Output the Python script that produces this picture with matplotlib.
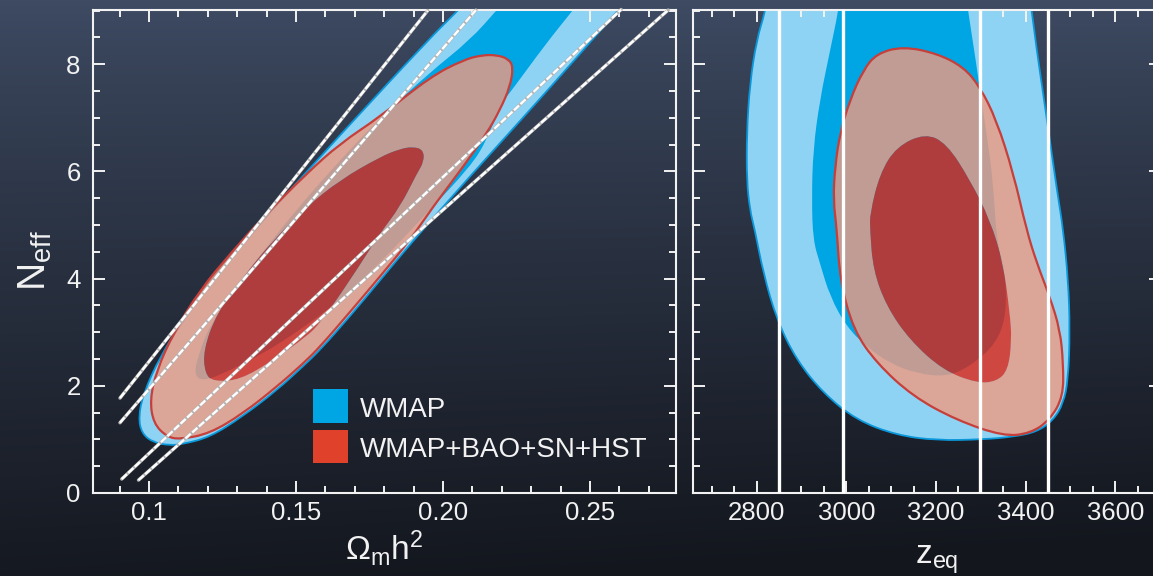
import numpy as np
import matplotlib
matplotlib.use("Agg")
import matplotlib.pyplot as plt
from matplotlib.path import Path
from matplotlib.patches import PathPatch, Rectangle
from matplotlib.ticker import FixedLocator, FixedFormatter, MultipleLocator

plt.rcParams['font.family'] = ['Liberation Sans', 'DejaVu Sans']
plt.rcParams['mathtext.fontset'] = 'custom'
plt.rcParams['mathtext.rm'] = 'Liberation Sans'
plt.rcParams['mathtext.it'] = 'Liberation Sans:italic'
plt.rcParams['mathtext.bf'] = 'Liberation Sans:bold'

# ---------------- data ----------------
# Left panel: Omega_m h^2 vs N_eff confidence regions (outlines)
omh2_wmap95 = [0.2099, 0.2047, 0.1956, 0.1650, 0.1412, 0.1332, 0.1207, 0.1117, 0.1037,
               0.0981, 0.0964, 0.0975, 0.1015, 0.1071, 0.1112, 0.1207, 0.1321, 0.1435,
               0.1525, 0.1582, 0.1684, 0.1786, 0.1894, 0.2092, 0.2262, 0.2466, 0.2596, 0.2643]
neff_wmap95 = [9.29, 8.98, 8.49, 6.68, 5.24, 4.72, 3.91, 3.23, 2.54,
               1.86, 1.42, 1.11, 0.94, 0.89, 0.91, 1.04, 1.44, 1.92,
               2.37, 2.67, 3.30, 3.97, 4.68, 5.91, 6.94, 8.19, 9.01, 9.29]

omh2_wmap68 = [0.2228, 0.2183, 0.2092, 0.1956, 0.1786, 0.1650, 0.1514, 0.1378, 0.1276,
               0.1207, 0.1167, 0.1153, 0.1190, 0.1276, 0.1378, 0.1514, 0.1650, 0.1786,
               0.1939, 0.2092, 0.2150, 0.2194, 0.2235, 0.2347, 0.2442, 0.2483]
neff_wmap68 = [9.29, 9.01, 8.45, 7.85, 7.00, 6.21, 5.37, 4.44, 3.69,
               3.13, 2.57, 2.18, 2.09, 2.29, 2.57, 3.04, 3.60, 4.29,
               5.19, 6.08, 6.59, 7.24, 7.52, 8.36, 9.01, 9.29]

omh2_combo95 = [0.2133, 0.2183, 0.2222, 0.2239, 0.2228, 0.2194, 0.2149, 0.2069, 0.1966,
                0.1888, 0.1786, 0.1684, 0.1582, 0.1525, 0.1434, 0.1321, 0.1207, 0.1105,
                0.1060, 0.1015, 0.1003, 0.1026, 0.1083, 0.1173, 0.1287, 0.1389, 0.1536,
                0.1650, 0.1786, 0.1956, 0.2069]
neff_combo95 = [8.17, 8.17, 8.10, 7.95, 7.58, 7.15, 6.71, 6.09, 5.34,
                4.72, 4.04, 3.38, 2.73, 2.42, 1.98, 1.49, 1.11, 1.00,
                1.05, 1.30, 1.74, 2.29, 2.98, 3.79, 4.53, 5.15, 5.96,
                6.52, 7.02, 7.76, 8.08]

omh2_combo68 = [0.1899, 0.1933, 0.1935, 0.1911, 0.1854, 0.1786, 0.1684, 0.1582, 0.1536,
                0.1423, 0.1310, 0.1219, 0.1190, 0.1185, 0.1230, 0.1321, 0.1423, 0.1536,
                0.1650, 0.1786, 0.1854]
neff_combo68 = [6.46, 6.40, 6.18, 5.96, 5.34, 4.85, 3.97, 3.17, 2.92,
                2.48, 2.11, 2.08, 2.23, 2.67, 3.35, 4.04, 4.72, 5.34,
                5.84, 6.27, 6.42]

# Lines of constant z_eq in the left panel (start / end points)
zline_omh2_start = [0.0901, 0.0901, 0.0907, 0.0964]
zline_neff_start = [1.77, 1.31, 0.26, 0.24]
zline_omh2_end = [0.1948, 0.2112, 0.2606, 0.2766]
zline_neff_end = [9.00, 9.01, 9.02, 9.01]

# Right panel: z_eq vs N_eff confidence regions (outlines)
zeq_wmap95 = [2825, 2819, 2800, 2785, 2778, 2778, 2785, 2796, 2815, 2845, 2889, 2949,
              3023, 3112, 3202, 3306, 3373, 3425, 3462, 3484, 3495, 3499, 3495, 3484,
              3470, 3454, 3439, 3425, 3414, 3408]
neffz_wmap95 = [9.29, 8.98, 8.45, 7.64, 6.71, 5.84, 5.28, 4.91, 4.10, 3.23, 2.48, 1.86,
                1.36, 1.08, 0.98, 1.00, 1.05, 1.14, 1.36, 1.67, 2.11, 3.04, 3.97, 4.91,
                5.65, 6.59, 7.46, 8.26, 8.98, 9.29]

zeq_wmap68 = [2986, 2982, 2964, 2941, 2926, 2923, 2926, 2941, 2964, 3001, 3045, 3097,
              3157, 3224, 3276, 3335, 3358, 3354, 3335, 3328, 3313, 3297, 3291, 3272, 3267]
neffz_wmap68 = [9.29, 8.98, 8.26, 7.33, 6.40, 5.47, 4.72, 4.29, 3.66, 3.10, 2.73, 2.42,
                2.23, 2.17, 2.36, 2.79, 3.35, 4.16, 4.72, 5.78, 6.71, 7.58, 7.95, 8.98, 9.29]

zeq_combo95 = [3127, 3202, 3261, 3298, 3335, 3373, 3402, 3425, 3454, 3477, 3484, 3484,
               3454, 3410, 3350, 3246, 3149, 3068, 3016, 2986, 2979, 2971, 2975, 2986,
               3008, 3038, 3068]
neffz_combo95 = [8.33, 8.20, 7.95, 7.58, 6.96, 5.96, 4.91, 4.29, 3.66, 3.04, 2.42, 1.80,
                 1.36, 1.11, 1.06, 1.36, 1.80, 2.42, 3.04, 3.97, 4.91, 5.47, 6.09, 6.71,
                 7.33, 7.89, 8.20]

zeq_combo68 = [3176, 3224, 3276, 3321, 3350, 3365, 3369, 3361, 3335, 3291, 3216, 3142,
               3090, 3060, 3053, 3053, 3075, 3112]
neffz_combo68 = [6.71, 6.52, 5.84, 5.09, 4.29, 3.35, 2.85, 2.29, 2.08, 2.05, 2.29, 2.85,
                 3.48, 4.16, 4.91, 5.22, 5.96, 6.46]

# Vertical z_eq reference lines in the right panel
zeq_lines = [2850, 2992, 3298, 3451]

# Axes ticks and labels
omh2_ticks = [0.10, 0.15, 0.20, 0.25]
omh2_ticklabels = ['0.1', '0.15', '0.20', '0.25']
zeq_ticks = [2800, 3000, 3200, 3400, 3600]
zeq_ticklabels = ['2800', '3000', '3200', '3400', '3600']
neff_ticks = [0, 2, 4, 6, 8]
neff_ticklabels = ['0', '2', '4', '6', '8']

legend_labels = ['WMAP', 'WMAP+BAO+SN+HST']
legend_colors = ['#00a5e3', '#e0412a']

# ---------------- styling ----------------
LIGHT_BLUE = '#8ed3f4'
DARK_BLUE = '#00a5e3'
BLUE_EDGE = '#0a98db'
RED95 = (238 / 255, 155 / 255, 130 / 255)
RED68 = (226 / 255, 32 / 255, 14 / 255)
RED_EDGE = '#c63f3a'
FG = '#f2f2f2'

W_PX, H_PX = 1153, 576
fig = plt.figure(figsize=(W_PX / 100, H_PX / 100), dpi=100)

# background gradient
bg = fig.add_axes([0, 0, 1, 1], zorder=-10)
yy = np.linspace(0, 1, H_PX)[:, None]
xx = np.linspace(0, 1, W_PX)[None, :]
top = np.array([62, 75, 99]) / 255
bot = np.array([19, 22, 29]) / 255
t = np.clip(yy ** 0.85 + 0.10 * (xx - 0.5) * yy, 0, 1)
img = top[None, None, :] * (1 - t[..., None]) + bot[None, None, :] * t[..., None]
bg.imshow(img, aspect='auto', extent=[0, 1, 0, 1], origin='upper')
bg.set_axis_off()

ax1 = fig.add_axes([0.0807, 0.1441, 0.5056, 0.8385])
ax2 = fig.add_axes([0.6010, 0.1441, 0.4059, 0.8385])


def signed_area(pts):
    x, y = pts[:, 0], pts[:, 1]
    return 0.5 * np.sum(x * np.roll(y, -1) - np.roll(x, -1) * y)


def smooth_loop(x, y, orient=None):
    """Closed outline drawn as quadratic Bezier segments with the given
    vertices as control points (rounded corners)."""
    pts = np.column_stack([x, y]).astype(float)
    if orient is not None and np.sign(signed_area(pts)) != orient:
        pts = pts[::-1]
    n = len(pts)
    mids = 0.5 * (pts + np.roll(pts, -1, axis=0))
    verts = [mids[-1]]
    codes = [Path.MOVETO]
    for i in range(n):
        verts += [pts[i], mids[i]]
        codes += [Path.CURVE3, Path.CURVE3]
    verts.append(mids[-1])
    codes.append(Path.CLOSEPOLY)
    return np.array(verts), codes


def loop_path(x, y):
    v, c = smooth_loop(x, y)
    return Path(v, c)


def ring_path(xo, yo, xi, yi):
    vo, co = smooth_loop(xo, yo, orient=1)
    vi, ci = smooth_loop(xi, yi, orient=-1)
    return Path(np.concatenate([vo, vi]), co + ci)


def draw_regions(ax, xb95, yb95, xb68, yb68, xr95, yr95, xr68, yr68):
    ax.add_patch(PathPatch(loop_path(xb95, yb95), facecolor=LIGHT_BLUE,
                           edgecolor=BLUE_EDGE, lw=1.3, zorder=1))
    ax.add_patch(PathPatch(loop_path(xb68, yb68), facecolor=DARK_BLUE,
                           edgecolor='none', zorder=2))
    ax.add_patch(PathPatch(ring_path(xr95, yr95, xr68, yr68), facecolor=RED95,
                           alpha=0.81, edgecolor='none', zorder=3))
    ax.add_patch(PathPatch(loop_path(xr68, yr68), facecolor=RED68, alpha=0.78,
                           edgecolor='none', zorder=3))
    ax.add_patch(PathPatch(loop_path(xr95, yr95), fill=False, edgecolor=RED_EDGE,
                           lw=1.6, zorder=4))


def style_axes(ax):
    for s in ax.spines.values():
        s.set_color(FG)
        s.set_linewidth(1.5)
    ax.set_facecolor('none')
    ax.tick_params(which='both', direction='in', top=True, right=True,
                   colors=FG, width=1.4)
    ax.tick_params(which='major', length=8.5, labelsize=18.5)
    ax.tick_params(which='minor', length=4.8)
    ax.tick_params(axis='x', pad=6)
    ax.tick_params(axis='y', pad=9)
    ax.set_ylim(0, 9.01)
    ax.yaxis.set_major_locator(FixedLocator(neff_ticks))
    ax.yaxis.set_minor_locator(MultipleLocator(0.5))


# ----- left panel -----
draw_regions(ax1, omh2_wmap95, neff_wmap95, omh2_wmap68, neff_wmap68,
             omh2_combo95, neff_combo95, omh2_combo68, neff_combo68)
for x0, y0, x1, y1 in zip(zline_omh2_start, zline_neff_start, zline_omh2_end, zline_neff_end):
    ax1.plot([x0, x1], [y0, y1], color='#b5b5b5', lw=2.4, solid_capstyle='round',
             zorder=5, clip_on=False)
    ax1.plot([x0, x1], [y0, y1], color='white', lw=1.7, dashes=(3.0, 0.8),
             zorder=6, clip_on=False)

style_axes(ax1)
ax1.set_xlim(0.08095, 0.27925)
ax1.xaxis.set_major_locator(FixedLocator(omh2_ticks))
ax1.xaxis.set_major_formatter(FixedFormatter(omh2_ticklabels))
ax1.xaxis.set_minor_locator(MultipleLocator(0.01))
ax1.yaxis.set_major_formatter(FixedFormatter(neff_ticklabels))

ax1.set_xlabel(r'$\mathregular{\Omega_m h^2}$', fontsize=24, color=FG)
ax1.xaxis.label.set_va('center')
ax1.xaxis.set_label_coords(0.500, -0.114)
ax1.set_ylabel(r'$\mathregular{N_{eff}}$', fontsize=28, color=FG)
ax1.yaxis.label.set_va('center')
ax1.yaxis.set_label_coords(-0.0995, 0.482)

# legend
leg_y = [0.1455, 0.0615]
for y0, col, lab in zip(leg_y, legend_colors, legend_labels):
    ax1.add_patch(Rectangle((0.378, y0), 0.060, 0.069, transform=ax1.transAxes,
                            facecolor=col, edgecolor='none', zorder=7))
    ax1.text(0.458, y0 + 0.0125, lab, transform=ax1.transAxes, fontsize=20,
             color=FG, va='baseline', ha='left', zorder=7)

# ----- right panel -----
draw_regions(ax2, zeq_wmap95, neffz_wmap95, zeq_wmap68, neffz_wmap68,
             zeq_combo95, neffz_combo95, zeq_combo68, neffz_combo68)
for z in zeq_lines:
    ax2.axvline(z, color='white', lw=2.4, zorder=5)

style_axes(ax2)
ax2.set_xlim(2658, 3702)
ax2.xaxis.set_major_locator(FixedLocator(zeq_ticks))
ax2.xaxis.set_major_formatter(FixedFormatter(zeq_ticklabels))
ax2.xaxis.set_minor_locator(MultipleLocator(50))
ax2.yaxis.set_major_formatter(FixedFormatter([''] * len(neff_ticks)))

ax2.set_xlabel(r'$\mathregular{z_{eq}}$', fontsize=24, color=FG)
ax2.xaxis.label.set_va('center')
ax2.xaxis.set_label_coords(0.520, -0.139)

fig.savefig('out.png', dpi=100)
